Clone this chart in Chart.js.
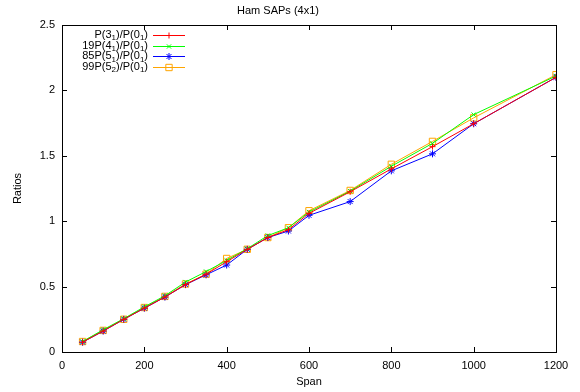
<!DOCTYPE html>
<html>
<head>
<meta charset="utf-8">
<script src="https://cdn.jsdelivr.net/npm/chart.js@4/dist/chart.umd.min.js"></script>
<style>
  html, body { margin:0; padding:0; background:#fff; }
  #wrap { width:580px; height:392px; }
</style>
</head>
<body>
<div id="wrap"><canvas id="c" width="580" height="392"></canvas></div>
<script>
// values
const spans = [50,100,150,200,250,300,350,400,450,500,550,600,700,800,900,1000,1200];
const ratio31 = [0.075,0.16,0.25,0.335,0.42,0.515,0.595,0.69,0.785,0.875,0.935,1.06,1.225,1.40,1.57,1.745,2.10];
const ratio41 = [0.08,0.17,0.255,0.345,0.43,0.535,0.615,0.70,0.79,0.89,0.95,1.07,1.23,1.42,1.595,1.815,2.11];
const ratio51 = [0.075,0.16,0.25,0.335,0.42,0.515,0.59,0.665,0.785,0.875,0.925,1.045,1.15,1.385,1.515,1.745,2.10];
const ratio52 = [0.08,0.165,0.25,0.34,0.425,0.52,0.595,0.715,0.785,0.875,0.95,1.08,1.235,1.435,1.61,1.79,2.12];

// legend labels: [text, subscript] pieces
const legendLabels = [
  [['P(3','1'],[')/P(0','1'],[')','']],
  [['19P(4','1'],[')/P(0','1'],[')','']],
  [['85P(5','1'],[')/P(0','1'],[')','']],
  [['99P(5','2'],[')/P(0','1'],[')','']]
];
const xTicks = [0,200,400,600,800,1000,1200];
const yTicks = [0,0.5,1,1.5,2,2.5];

const FONT = '"Liberation Sans", Arial, sans-serif';

function pts(vals){ return spans.map((s,i)=>({x:s, y:vals[i]})); }

function ds(label, vals, color, style, r){
  return {
    label: label, data: pts(vals),
    borderColor: color, backgroundColor: 'rgba(0,0,0,0)',
    borderWidth: 1, pointStyle: style, pointRadius: r, pointBorderWidth: 1,
    pointHoverRadius: r, tension: 0
  };
}

// gnuplot-ish frame: full box + inward ticks on every side, plus the key
const framePlugin = {
  id: 'frame',
  afterDraw(chart){
    const ctx = chart.ctx, a = chart.chartArea;
    const xs = chart.scales.x, ys = chart.scales.y;
    ctx.save();
    ctx.strokeStyle = '#000'; ctx.lineWidth = 1;
    ctx.strokeRect(Math.round(a.left)+0.5, Math.round(a.top)+0.5,
                   Math.round(a.right-a.left), Math.round(a.bottom-a.top));
    ctx.beginPath();
    const L = 5;
    xTicks.forEach(v=>{
      const px = Math.round(xs.getPixelForValue(v))+0.5;
      ctx.moveTo(px, a.bottom); ctx.lineTo(px, a.bottom-L);
      ctx.moveTo(px, a.top); ctx.lineTo(px, a.top+L);
    });
    yTicks.forEach(v=>{
      const py = Math.round(ys.getPixelForValue(v))+0.5;
      ctx.moveTo(a.left, py); ctx.lineTo(a.left+L, py);
      ctx.moveTo(a.right, py); ctx.lineTo(a.right-L, py);
    });
    ctx.stroke();

    // key, top left inside the box
    const textRight = 148, x0 = 153, x1 = 185;
    chart.data.datasets.forEach((d,i)=>{
      const y = 35 + i*10.7;
      const parts = legendLabels[i];
      const big = '11px ' + FONT, small = '8px ' + FONT;
      let w = 0;
      parts.forEach(p=>{
        ctx.font = big; w += ctx.measureText(p[0]).width;
        ctx.font = small; w += ctx.measureText(p[1]).width;
      });
      let x = textRight - w;
      ctx.fillStyle = '#000'; ctx.textBaseline = 'middle'; ctx.textAlign = 'left';
      parts.forEach(p=>{
        ctx.font = big; ctx.fillText(p[0], x, y); x += ctx.measureText(p[0]).width;
        ctx.font = small; ctx.fillText(p[1], x, y+3); x += ctx.measureText(p[1]).width;
      });
      const ly = Math.round(y)+0.5;
      ctx.strokeStyle = d.borderColor; ctx.fillStyle = 'rgba(0,0,0,0)'; ctx.lineWidth = 1;
      ctx.beginPath(); ctx.moveTo(x0, ly); ctx.lineTo(x1, ly); ctx.stroke();
      Chart.helpers.drawPoint(ctx, {pointStyle: d.pointStyle, radius: d.pointRadius, rotation: 0, borderWidth: 1}, (x0+x1)/2, ly);
    });
    ctx.restore();
  }
};

new Chart(document.getElementById('c'), {
  type: 'line',
  data: {
    datasets: [
      ds('P(31)/P(01)', ratio31, '#ff0000', 'cross', 3),
      ds('19P(41)/P(01)', ratio41, '#00ff00', 'crossRot', 3),
      ds('85P(51)/P(01)', ratio51, '#0000ff', 'star', 3.5),
      ds('99P(52)/P(01)', ratio52, '#ffa500', 'rect', 4.5)
    ]
  },
  options: {
    responsive: false,
    animation: false,
    events: [],
    layout: { padding: { top: 0, right: 24, left: 0, bottom: 0 } },
    plugins: {
      legend: { display: false },
      tooltip: { enabled: false },
      title: {
        display: true, text: 'Ham SAPs (4x1)', color: '#000',
        font: { family: FONT, size: 11, weight: 'normal', lineHeight: 1.2 },
        padding: { top: 4, bottom: 7.8 }
      }
    },
    scales: {
      x: {
        type: 'linear', min: 0, max: 1200,
        afterFit(s){ s.height = 40; },
        afterBuildTicks(s){ s.ticks = xTicks.map(v=>({value:v})); },
        grid: { display: false, drawTicks: false },
        border: { display: false },
        ticks: { color: '#000', padding: 7, maxRotation: 0, font: { family: FONT, size: 11 },
                 callback: v => String(v) },
        title: { display: true, text: 'Span', color: '#000', font: { family: FONT, size: 11 },
                 padding: { top: 0, bottom: 3.4 } }
      },
      y: {
        min: 0, max: 2.5,
        afterFit(s){ s.width = 62; },
        afterBuildTicks(s){ s.ticks = yTicks.map(v=>({value:v})); },
        grid: { display: false, drawTicks: false },
        border: { display: false },
        ticks: { color: '#000', padding: 7, font: { family: FONT, size: 11 },
                 callback: v => String(v) },
        title: { display: true, text: 'Ratios', color: '#000', font: { family: FONT, size: 11 },
                 padding: { top: 11.4, bottom: 0 } }
      }
    }
  },
  plugins: [framePlugin]
});
</script>
</body>
</html>
